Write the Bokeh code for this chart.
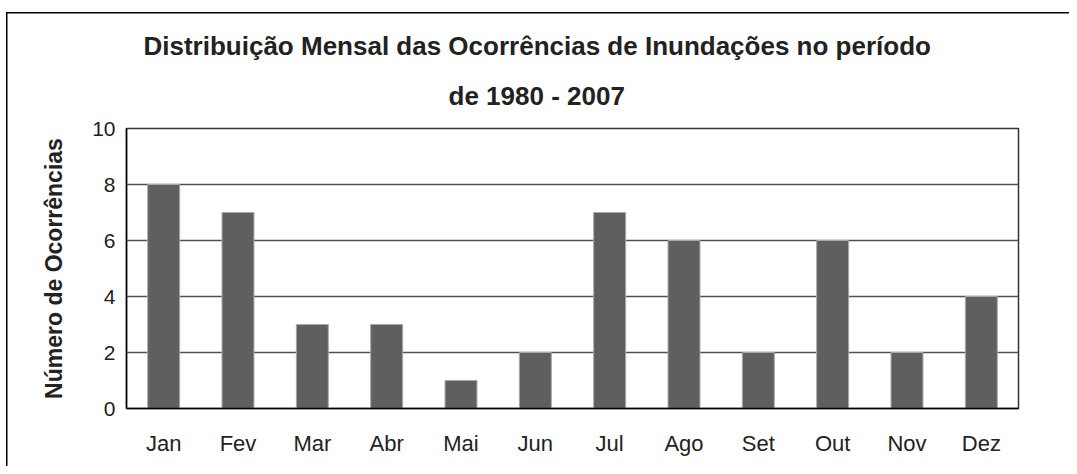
from bokeh.plotting import figure
from bokeh.models import Range1d, FixedTicker, Title
from bokeh.embed import file_html
from bokeh.resources import INLINE

months = ["Jan", "Fev", "Mar", "Abr", "Mai", "Jun", "Jul", "Ago", "Set", "Out", "Nov", "Dez"]
occurrences = [8, 7, 3, 3, 1, 2, 7, 6, 2, 6, 2, 4]
y_ticks = [0, 2, 4, 6, 8, 10]
title_lines = ["Distribuição Mensal das Ocorrências de Inundações no período", "de 1980 - 2007"]
y_label = "Número de Ocorrências"

FONT = "Liberation Sans"

p = figure(x_range=months, y_range=Range1d(0, 10), width=1069, height=466,
           output_backend="svg", toolbar_location=None, title=None,
           min_border_left=126, min_border_right=51, min_border_top=128, min_border_bottom=58)

p.vbar(x=months, top=occurrences, width=0.43, fill_color="#5f5f61",
       line_color="#a8a8a8", line_width=1)

p.outline_line_color = "#333333"
p.outline_line_width = 1.5
p.border_fill_color = None
p.background_fill_color = "white"

# outer border of the picture (top and left edges), drawn as CSS background lines
p.styles = {
    "background": "linear-gradient(#000, #000) 6px 12px / 1.5px 100% no-repeat, "
                  "linear-gradient(#000, #000) 6px 12px / 100% 1.5px no-repeat, white",
}

# two title lines, each centred near x=536 (left-aligned with pixel offsets)
title_offsets = [17, 322]
title_standoffs = [0, 36]
for line, off, so in reversed(list(zip(title_lines, title_offsets, title_standoffs))):
    p.add_layout(Title(text=line, align="left", offset=off, standoff=so,
                       text_font=FONT, text_font_size="26px", text_font_style="bold",
                       text_color="#222222"), "above")

p.xgrid.grid_line_color = None
p.ygrid.grid_line_color = "#505050"
p.ygrid.grid_line_width = 1.5
p.x_range.range_padding = 0

p.yaxis.ticker = FixedTicker(ticks=y_ticks)
p.yaxis.major_tick_out = 0
p.yaxis.major_tick_in = 0
p.yaxis.minor_tick_out = 0
p.yaxis.minor_tick_in = 0
p.yaxis.axis_line_color = "black"
p.yaxis.axis_line_width = 1.5
p.yaxis.major_label_standoff = 11
p.yaxis.major_label_text_font = FONT
p.yaxis.major_label_text_font_size = "21px"
p.yaxis.major_label_text_color = "#222222"
p.yaxis.axis_label = y_label
p.yaxis.axis_label_text_font = FONT
p.yaxis.axis_label_text_font_size = "23px"
p.yaxis.axis_label_text_font_style = "bold"
p.yaxis.axis_label_text_color = "#222222"
p.yaxis.axis_label_standoff = 22

p.xaxis.major_tick_out = 0
p.xaxis.major_tick_in = 0
p.xaxis.axis_line_color = "black"
p.xaxis.axis_line_width = 1.5
p.xaxis.major_label_standoff = 22
p.xaxis.major_label_text_font = FONT
p.xaxis.major_label_text_font_size = "22px"
p.xaxis.major_label_text_color = "#222222"

open("out.html", "w").write(file_html(p, INLINE))
